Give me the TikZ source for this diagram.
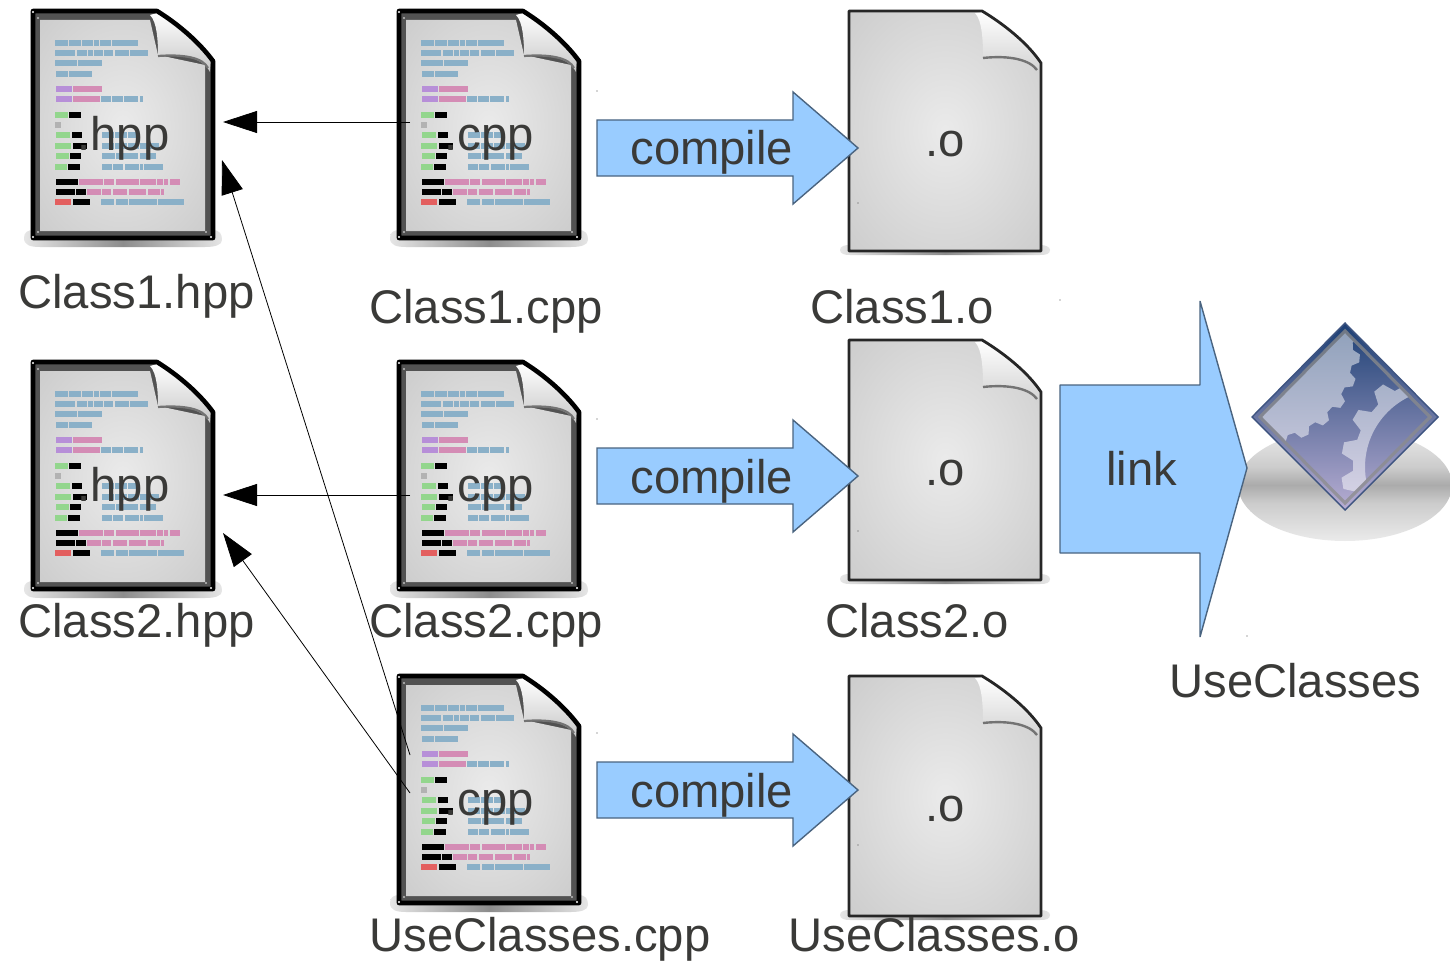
\documentclass[tikz,border=0pt]{standalone}
\usepackage{fontspec}
\setmainfont{Liberation Sans}
\usetikzlibrary{arrows.meta}
\definecolor{ink}{HTML}{3A3A38}
\definecolor{bblue}{HTML}{8AB0C8}
\definecolor{bpurple}{HTML}{B78FD8}
\definecolor{bpink}{HTML}{D48CB5}
\definecolor{bgreen}{HTML}{93D68D}
\definecolor{bred}{HTML}{E35F5F}
\definecolor{arrowblue}{HTML}{99CCFF}
\definecolor{arrowedge}{HTML}{4A6480}
\definecolor{execTop}{HTML}{1C3F74}
\definecolor{execBot}{HTML}{B8AED3}
\definecolor{execEdge}{HTML}{3E5480}
\pgfdeclareradialshading{pagelight}{\pgfpoint{0bp}{0bp}}{color(0bp)=(black!8); color(70bp)=(black!31); color(100bp)=(black!31)}
\pgfdeclareverticalshading{groundshadow}{100bp}{color(0bp)=(black!8); color(25bp)=(black!8); color(42bp)=(black!20); color(50bp)=(black!33); color(58bp)=(black!20); color(75bp)=(black!8); color(100bp)=(black!8)}
\tikzset{
  big/.style={font=\fontsize{23.6}{28}\selectfont,text=ink,inner sep=0pt,anchor=base west},
  dep/.style={draw=black,line width=0.4pt,-{Triangle[length=17pt,width=11pt]}},
  bigarrow/.style={fill=arrowblue,draw=arrowedge,line width=0.7pt},
  speck/.style={fill=black!70},
  page/.style={shading=pagelight},
}
\newcommand\rowbars[3]{\foreach \a/\b in {#3}{\fill[#1] (\a,#2) rectangle (\b,#2+18);}}
\newcommand\srcdoc[2]{%
\begin{scope}[shift={(#1,#2)}]
  \shade[left color=black!10,right color=black!10,middle color=black!45] (24,238) .. controls (24,232) and (28,230) .. (34,230) -- (212,230) .. controls (220,230) and (222,234) .. (222,240) .. controls (222,245) and (215,247) .. (205,247) -- (40,247) .. controls (30,247) and (24,245) .. (24,238) -- cycle;
  \fill[black!68] (34,12) -- (157,12) .. controls (178,25) and (198,42) .. (212,61) -- (212,237) -- (34,237) -- cycle;
  \shade[page] (40,20) -- (150,20) -- (158,55) -- (205,65) -- (205,231) -- (40,231) -- cycle;
  \begin{scope}[x=0.5pt/3,y=-0.5pt/3]
    \rowbars{bblue}{120}{165/204,207/243,246/279,282/297,300/333,336/414}
    \rowbars{bblue}{150}{165/225,231/261,264/279,282/309,312/339,345/387,390/444}
    \rowbars{bblue}{180}{165/231,234/306}
    \rowbars{bblue}{213}{168/204,207/276}
    \rowbars{bpurple}{258}{168/216}
    \rowbars{bpink}{258}{219/306}
    \rowbars{bpurple}{288}{168/216}
    \rowbars{bpink}{288}{219/300}
    \rowbars{bblue}{288}{303/333,336/369,372/414,420/429}
    \rowbars{bgreen}{336}{165/204}
    \rowbars{black}{336}{207/243}
    \rowbars{black!30}{366}{165/183}
    \rowbars{bgreen}{396}{168/210}
    \rowbars{black}{396}{216/246}
    \rowbars{bblue}{396}{306/342,345/381,384/408}
    \rowbars{bgreen}{429}{165/213}
    \rowbars{black}{429}{219/261}
    \rowbars{bblue}{429}{306/342,345/381,384/417,420/477}
    \rowbars{bgreen}{459}{168/207}
    \rowbars{black}{459}{210/243}
    \rowbars{bblue}{459}{306/345,348/414,420/468}
    \rowbars{bgreen}{492}{165/201}
    \rowbars{black}{492}{204/240}
    \rowbars{bblue}{492}{306/336,339/369,375/417,420/429,432/489}
    \rowbars{black}{537}{168/234}
    \rowbars{bpink}{537}{237/309,312/342,348/417,420/468,471/489,492/504,510/540}
    \rowbars{black}{567}{168/225,228/258}
    \rowbars{bpink}{567}{261/303,306/333,339/381,387/438,444/480,483/492}
    \rowbars{bred}{597}{165/213}
    \rowbars{black}{597}{219/270}
    \rowbars{bblue}{597}{303/342,348/384,387/471,474/552}
  \end{scope}
  \shade[top color=white,bottom color=black!22] (150,15) .. controls (157,22) and (158,40) .. (158,55) .. controls (185,54) and (203,58) .. (210,72) -- (211,61) .. controls (198,42) and (178,25) .. (157,13) -- cycle;
  \draw[black!55,line width=1.1pt] (158,56) .. controls (185,54) and (203,58) .. (208,68);
  \draw[black,line width=2.3pt,line join=round] (33,11) -- (157,11) .. controls (178,24) and (199,42) .. (213,61) -- (213,238) -- (33,238) -- cycle;
  \fill[white] (33,12) circle (1.2) (211,237) circle (1.2) (33,237) circle (1.2);
  \fill[black!25] (38,18) circle (1.2) (38,232) circle (1.2) (206,232) circle (1.2);
\end{scope}}
\newcommand\objdoc[2]{%
\begin{scope}[shift={(#1,#2)}]
  \shade[left color=black!10,right color=black!10,middle color=black!45] (840,250) .. controls (840,246) and (845,245) .. (850,245) -- (1040,245) .. controls (1046,245) and (1050,247) .. (1050,250) .. controls (1050,254) and (1046,255) .. (1040,255) -- (850,255) .. controls (845,255) and (840,254) .. (840,250) -- cycle;
  \shade[page] (850,12) -- (982,12) .. controls (1002,24) and (1026,43) .. (1040,63) -- (1040,250) -- (850,250) -- cycle;
  \shade[top color=white,bottom color=black!18] (975,13) .. controls (982,20) and (983,40) .. (983,57) .. controls (1010,55) and (1032,60) .. (1038,74) -- (1040,63) .. controls (1026,43) and (1002,24) .. (982,12) -- cycle;
  \draw[black!55,line width=1.2pt] (983,58) .. controls (1010,55) and (1030,60) .. (1037,70);
  \draw[black!85,line width=1.4pt,line join=round] (849,11) -- (982,11) .. controls (1002,23) and (1027,42) .. (1041,63) -- (1041,251) -- (849,251) -- cycle;
\end{scope}}
\newcommand\compilearrow[2]{%
  \draw[bigarrow] (597,#2+28) -- (793,#2+28) -- (793,#2) -- (858,#2+56) -- (793,#2+112) -- (793,#2+84) -- (597,#2+84) -- cycle;
  \fill[speck] (597,#2-1) circle (0.6) (858,#2+111) circle (0.6);}
\newcommand\gearpath[6]{%
  ({#1+#3*cos(#6)},{#2+#3*sin(#6)})
  \foreach \k in {0,...,\numexpr#5-1\relax}{
    -- ({#1+#3*cos(#6+\k*360/#5)},{#2+#3*sin(#6+\k*360/#5)})
    -- ({#1+#4*cos(#6+(\k+.18)*360/#5)},{#2+#4*sin(#6+(\k+.18)*360/#5)})
    -- ({#1+#4*cos(#6+(\k+.5)*360/#5)},{#2+#4*sin(#6+(\k+.5)*360/#5)})
    -- ({#1+#3*cos(#6+(\k+.68)*360/#5)},{#2+#3*sin(#6+(\k+.68)*360/#5)})
  } -- cycle}
\begin{document}
\begin{tikzpicture}[x=0.5pt,y=-0.5pt]
\useasboundingbox (0,0) rectangle (1450,963);
\fill[white] (0,0) rectangle (1450,963);

\srcdoc{0}{0}
\srcdoc{366}{0}
\srcdoc{0}{351}
\srcdoc{366}{351}
\srcdoc{366}{665}
\objdoc{0}{0}
\objdoc{0}{329}
\objdoc{0}{665}

\node[big] (exth1) at (77,150) {.hpp};
\node[big] (extc1) at (444,150) {.cpp};
\node[big] (exth2) at (77,501) {.hpp};
\node[big] (extc2) at (444,501) {.cpp};
\node[big] (extc3) at (444,815) {.cpp};
\node[big] (exto1) at (925,156) {.o};
\node[big] (exto2) at (925,485) {.o};
\node[big] (exto3) at (925,821) {.o};

\begin{scope}
  \clip (1230,430) rectangle (1450,545);
  \shade[shading=groundshadow] (1345,485) ellipse (107 and 56);
\end{scope}
\shade[top color=execTop,bottom color=execBot,draw=execEdge,line width=0.7pt] (1345,323) -- (1438,417) -- (1345,510) -- (1252,417) -- cycle;
\begin{scope}
  \clip (1345,333) -- (1428,417) -- (1345,501) -- (1262,417) -- cycle;
  \fill[white,opacity=.5] \gearpath{1265}{350}{88}{95}{24}{0};
  \fill[white,opacity=.5,even odd rule] \gearpath{1443}{467}{90}{102}{18}{4} (1443,467) circle (78);
\end{scope}
\draw[black!45,opacity=.75,line width=1.6pt] (1345,331) -- (1430,417) -- (1345,503) -- (1260,417) -- cycle;

\compilearrow{0}{92}
\compilearrow{0}{420}
\compilearrow{0}{734}
\draw[bigarrow,line join=bevel] (1060,385) -- (1200,385) -- (1200,301) -- (1247,468) -- (1200,637) -- (1200,553) -- (1060,553) -- cycle;
\fill[speck] (1060,300) circle (0.6) (1247,636) circle (0.6);

\node[big] (comp1) at (630,164) {compile};
\node[big] (comp2) at (630,493) {compile};
\node[big] (comp3) at (630,807) {compile};
\node[big] (linklabel) at (1106,485) {link};

\coordinate (h1a) at (223,122);
\coordinate (h1b) at (222,160);
\coordinate (h2a) at (223,495);
\coordinate (h2b) at (223,533);
\coordinate (c1out) at (410,122);
\coordinate (c2out) at (410,495);
\coordinate (c3outa) at (410,755);
\coordinate (c3outb) at (410,793);
\draw[dep] (c1out) -- (h1a);
\draw[dep] (c2out) -- (h2a);
\draw[dep] (c3outa) -- (h1b);
\draw[dep] (c3outb) -- (h2b);

\node[big] (lh1) at (18,308) {Class1.hpp};
\node[big] (lc1) at (369,323) {Class1.cpp};
\node[big] (lo1) at (810,323) {Class1.o};
\node[big] (lh2) at (18,637) {Class2.hpp};
\node[big] (lc2) at (369,637) {Class2.cpp};
\node[big] (lo2) at (825,637) {Class2.o};
\node[big] (luse) at (1169,697) {UseClasses};
\node[big] (lc3) at (369,951) {UseClasses.cpp};
\node[big] (lo3) at (788,951) {UseClasses.o};
\end{tikzpicture}
\end{document}
